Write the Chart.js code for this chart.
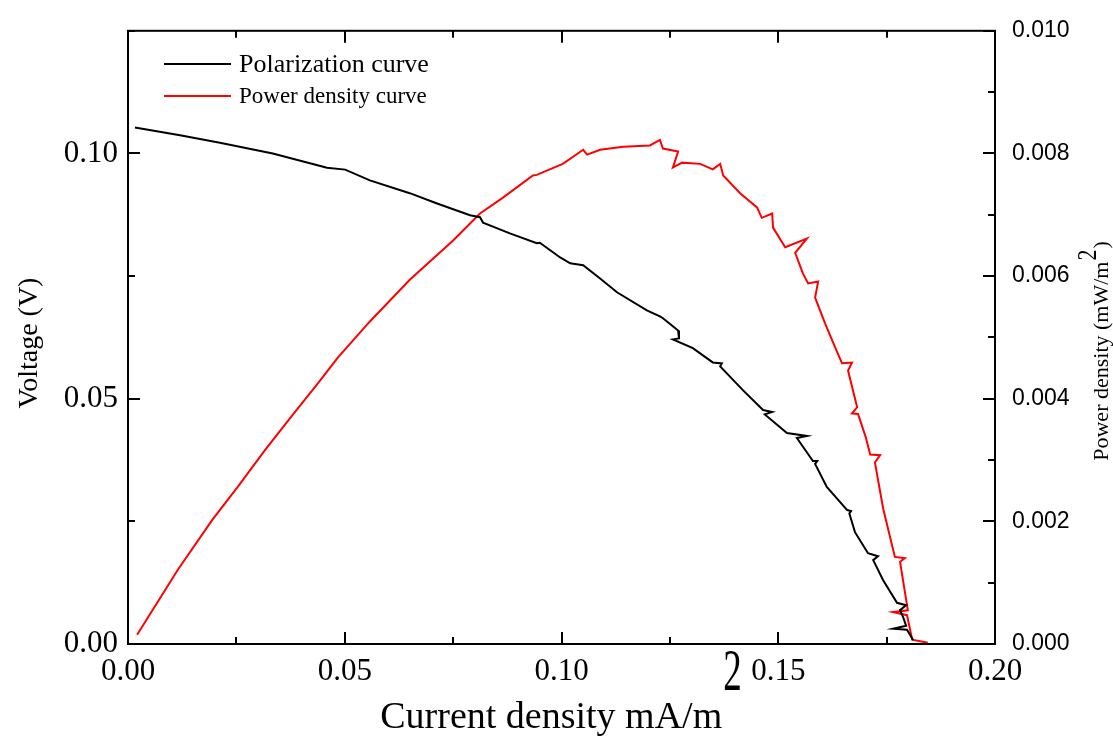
<!DOCTYPE html>
<html>
<head>
<meta charset="utf-8">
<script src="https://cdn.jsdelivr.net/npm/chart.js@4.4.1/dist/chart.umd.min.js"></script>
<style>
  html, body { margin: 0; padding: 0; background: #fff; }
</style>
</head>
<body>
<canvas id="chart" width="1113" height="742"></canvas>
<script>
// Polarization curve: current density (mA/m2) vs voltage (V)
const polCurrent = [0.0016, 0.0120, 0.0212, 0.0334, 0.0459, 0.0501, 0.0558, 0.0650, 0.0713, 0.0789, 0.0812, 0.0819,
  0.0881, 0.0943, 0.0950, 0.0997, 0.1020, 0.1050, 0.1089, 0.1128, 0.1197, 0.1227, 0.1234, 0.1269, 0.1271, 0.1257,
  0.1303, 0.1349, 0.1370, 0.1366, 0.1419, 0.1465, 0.1486, 0.1469, 0.1520, 0.1566, 0.1543, 0.1580, 0.1590, 0.1585,
  0.1612, 0.1659, 0.1668, 0.1664, 0.1677, 0.1707, 0.1730, 0.1719, 0.1742, 0.1774, 0.1795, 0.1781, 0.1788, 0.1795,
  0.1765, 0.1797, 0.1811];
const polVoltage = [0.1053, 0.1037, 0.1022, 0.1000, 0.0971, 0.0967, 0.0945, 0.0919, 0.0898, 0.0874, 0.0870, 0.0859,
  0.0837, 0.0817, 0.0818, 0.0788, 0.0776, 0.0772, 0.0745, 0.0717, 0.0680, 0.0668, 0.0664, 0.0639, 0.0623, 0.0621,
  0.0603, 0.0574, 0.0572, 0.0566, 0.0517, 0.0477, 0.0473, 0.0468, 0.0430, 0.0424, 0.0420, 0.0373, 0.0373, 0.0367,
  0.0320, 0.0273, 0.0271, 0.0266, 0.0228, 0.0185, 0.0179, 0.0171, 0.0130, 0.0084, 0.0079, 0.0069, 0.0055, 0.0037,
  0.0031, 0.0029, 0.0008];

// Power density curve: current density (mA/m2) vs power density (mW/m2)
const powCurrent = [0.0021, 0.0115, 0.0194, 0.0254, 0.0316, 0.0378, 0.0438, 0.0484, 0.0558, 0.0650, 0.0750, 0.0812,
  0.0865, 0.0934, 0.0943, 0.1003, 0.1050, 0.1059, 0.1089, 0.1142, 0.1204, 0.1227, 0.1234, 0.1269, 0.1257, 0.1278,
  0.1320, 0.1349, 0.1366, 0.1373, 0.1412, 0.1451, 0.1462, 0.1486, 0.1488, 0.1516, 0.1566, 0.1539, 0.1557, 0.1569,
  0.1592, 0.1585, 0.1608, 0.1631, 0.1647, 0.1670, 0.1661, 0.1682, 0.1670, 0.1684, 0.1702, 0.1712, 0.1735, 0.1723,
  0.1742, 0.1769, 0.1792, 0.1781, 0.1799, 0.1765, 0.1797, 0.1809, 0.1845];
const powDensity = [0.00015, 0.00121, 0.00202, 0.00257, 0.00316, 0.00372, 0.00425, 0.00467, 0.00526, 0.00594, 0.00658, 0.00702,
  0.00728, 0.00764, 0.00765, 0.00783, 0.00806, 0.00798, 0.00806, 0.00811, 0.00813, 0.00822, 0.00808, 0.00803, 0.00777, 0.00785,
  0.00783, 0.00774, 0.00783, 0.00764, 0.00735, 0.00712, 0.00695, 0.00702, 0.00679, 0.00647, 0.00661, 0.00638, 0.00604, 0.00588,
  0.00591, 0.00565, 0.00523, 0.00484, 0.00458, 0.00459, 0.00446, 0.00386, 0.00376, 0.00375, 0.00337, 0.00309, 0.00308, 0.00296,
  0.00221, 0.00142, 0.00140, 0.00134, 0.00055, 0.00052, 0.00047, 0.00007, 0.00002];

// axis texts
const xTitle = ['Current density mA/m', '2'];
const yTitle = 'Voltage (V)';
const y2Title = ['Power density (mW/m', '2', ')'];
const seriesNames = ['Polarization curve', 'Power density curve'];
const legendSizes = [26, 23];

const SERIF = '"Liberation Serif", "Times New Roman", serif';
const SANS = '"Liberation Sans", Arial, sans-serif';

function isMajor(v, step) {
  const r = v / step;
  return Math.abs(r - Math.round(r)) < 1e-6;
}

// inward ticks and frame
const frameTicks = {
  id: 'frameTicks',
  afterDatasetsDraw(chart) {
    const ctx = chart.ctx, a = chart.chartArea;
    const sx = chart.scales.x, sy = chart.scales.y, sy2 = chart.scales.y2;
    ctx.save();
    ctx.strokeStyle = '#000';
    ctx.lineWidth = 2;
    ctx.beginPath();
    sx.ticks.forEach(t => {
      const p = Math.round(sx.getPixelForValue(t.value));
      const len = isMajor(t.value, 0.05) ? 12 : 7;
      ctx.moveTo(p, a.bottom); ctx.lineTo(p, a.bottom - len);
      ctx.moveTo(p, a.top); ctx.lineTo(p, a.top + len);
    });
    sy.ticks.forEach(t => {
      const p = Math.round(sy.getPixelForValue(t.value));
      const len = isMajor(t.value, 0.05) ? 12 : 7;
      ctx.moveTo(a.left, p); ctx.lineTo(a.left + len, p);
    });
    sy2.ticks.forEach(t => {
      const p = Math.round(sy2.getPixelForValue(t.value));
      const len = isMajor(t.value, 0.002) ? 12 : 7;
      ctx.moveTo(a.right, p); ctx.lineTo(a.right - len, p);
    });
    ctx.stroke();
    ctx.strokeRect(a.left, a.top, a.right - a.left, a.bottom - a.top);
    ctx.restore();
  }
};

// axis titles with raised superscripts, and the inset legend
const titlesLegend = {
  id: 'titlesLegend',
  afterDraw(chart) {
    const ctx = chart.ctx, a = chart.chartArea;
    ctx.save();
    ctx.fillStyle = '#000';
    ctx.textBaseline = 'alphabetic';

    // x title
    ctx.font = '38px ' + SERIF;
    const w1 = ctx.measureText(xTitle[0]).width;
    ctx.font = '37px ' + SERIF;
    const w2 = ctx.measureText(xTitle[1]).width;
    const cx = (a.left + a.right) / 2 - 1;
    let x0 = cx - (w1 + w2) / 2;
    ctx.font = '38px ' + SERIF;
    ctx.textAlign = 'left';
    ctx.fillText(xTitle[0], x0, 728);
    ctx.save();
    ctx.translate(x0 + w1 + 1, 690);
    ctx.scale(1, 1.6);
    ctx.font = '37px ' + SERIF;
    ctx.fillText(xTitle[1], 0, 0);
    ctx.restore();

    // left y title
    ctx.save();
    ctx.translate(37, 343);
    ctx.rotate(-Math.PI / 2);
    ctx.font = '28px ' + SERIF;
    ctx.textAlign = 'center';
    ctx.fillText(yTitle, 0, 0);
    ctx.restore();

    // right y title
    ctx.save();
    ctx.translate(1108, 352);
    ctx.rotate(-Math.PI / 2);
    ctx.font = '22px ' + SERIF;
    const r1 = ctx.measureText(y2Title[0]).width;
    const r2 = ctx.measureText(y2Title[1]).width;
    const r3 = ctx.measureText(y2Title[2]).width;
    let s = -(r1 + r2 + r3) / 2;
    ctx.textAlign = 'left';
    ctx.fillText(y2Title[0], s, 0);
    ctx.save();
    ctx.translate(s + r1 + 1, -12);
    ctx.scale(1, 1.2);
    ctx.fillText(y2Title[1], 0, 0);
    ctx.restore();
    ctx.fillText(y2Title[2], s + r1 + r2 + 2, 0);
    ctx.restore();

    // legend
    ctx.textAlign = 'left';
    ctx.textBaseline = 'middle';
    chart.data.datasets.forEach((ds, i) => {
      const y = 64 + i * 32;
      ctx.strokeStyle = ds.borderColor;
      ctx.lineWidth = 2;
      ctx.beginPath();
      ctx.moveTo(164, y);
      ctx.lineTo(231, y);
      ctx.stroke();
      ctx.font = legendSizes[i] + 'px ' + SERIF;
      ctx.fillText(ds.label, 239, y + 1);
    });
    ctx.restore();
  }
};

new Chart(document.getElementById('chart'), {
  type: 'scatter',
  data: {
    datasets: [
      {
        label: seriesNames[0],
        data: polCurrent.map((x, i) => ({ x: x, y: polVoltage[i] })),
        yAxisID: 'y',
        showLine: true,
        borderColor: '#000000',
        borderWidth: 2,
        pointRadius: 0,
        tension: 0
      },
      {
        label: seriesNames[1],
        data: powCurrent.map((x, i) => ({ x: x, y: powDensity[i] })),
        yAxisID: 'y2',
        showLine: true,
        borderColor: '#ff0000',
        borderWidth: 2,
        pointRadius: 0,
        tension: 0
      }
    ]
  },
  options: {
    responsive: false,
    animation: false,
    devicePixelRatio: 1,
    layout: { padding: { top: 30, left: 0, right: 0, bottom: 0 } },
    plugins: {
      legend: { display: false },
      tooltip: { enabled: false }
    },
    scales: {
      x: {
        type: 'linear',
        position: 'bottom',
        min: 0,
        max: 0.2,
        grid: { display: false, drawTicks: false },
        border: { display: false },
        ticks: {
          stepSize: 0.025,
          autoSkip: false,
          maxRotation: 0,
          padding: 9,
          color: '#000',
          font: { family: SERIF, size: 31 },
          callback: v => isMajor(v, 0.05) ? v.toFixed(2) : ''
        },
        afterFit: s => { s.height = 98; }
      },
      y: {
        type: 'linear',
        position: 'left',
        min: 0,
        max: 0.125,
        grid: { display: false, drawTicks: false },
        border: { display: false },
        ticks: {
          stepSize: 0.025,
          autoSkip: false,
          padding: 10,
          color: '#000',
          font: { family: SERIF, size: 31 },
          callback: v => isMajor(v, 0.05) ? v.toFixed(2) : ''
        },
        afterFit: s => { s.width = 128; }
      },
      y2: {
        type: 'linear',
        position: 'right',
        min: 0,
        max: 0.01,
        grid: { display: false, drawTicks: false },
        border: { display: false },
        ticks: {
          stepSize: 0.001,
          autoSkip: false,
          padding: 17,
          color: '#000',
          font: { family: SANS, size: 23 },
          callback: v => isMajor(v, 0.002) ? v.toFixed(3) : ''
        },
        afterFit: s => { s.width = 118; }
      }
    }
  },
  plugins: [frameTicks, titlesLegend]
});
</script>
</body>
</html>
